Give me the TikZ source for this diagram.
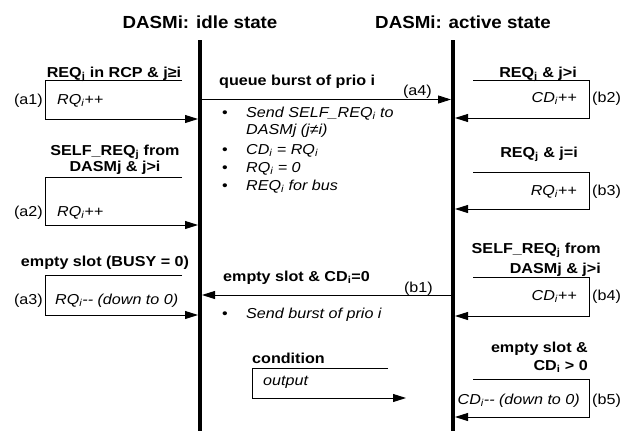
\documentclass[tikz,border=0pt]{standalone}
\usepackage{fontspec}
\setmainfont{Liberation Sans}[FakeStretch=1.12]
\newfontfamily\titlefont{Liberation Sans}[FakeStretch=1.07]
\usetikzlibrary{arrows.meta}
\newcommand\sub[1]{\textsubscript{#1}}
\begin{document}
\begin{tikzpicture}[x=1pt,y=-1pt,
  lbl/.style={font=\fontsize{14.4}{14.4}\selectfont\bfseries, inner sep=0pt},
  txt/.style={font=\fontsize{14.4}{14.4}\selectfont\itshape, inner sep=0pt},
  tag/.style={font=\fontsize{14.4}{14.4}\selectfont, inner sep=0pt},
  ttl/.style={font=\titlefont\fontsize{17.5}{17.5}\selectfont\bfseries, inner sep=0pt},
  thin/.style={line width=0.9pt},
  arr/.style={thin, -{Triangle[length=13pt,width=8pt]}},
  life/.style={line width=3.8pt}]
\useasboundingbox (0,0) rectangle (632,431);
\fill[white] (0,0) rectangle (632,431);
% titles
\node[ttl, anchor=base] (t1) at (200,28) {DASMi: idle state};
\node[ttl, anchor=base] (t2) at (463,28) {DASMi: active state};
% lifelines
\coordinate (L1top) at (200,40); \coordinate (L1bot) at (200,431);
\coordinate (L2top) at (453,40); \coordinate (L2bot) at (453,431);
\draw[life] (L1top) -- (L1bot);
\draw[life] (L2top) -- (L2bot);
% a1
\node[lbl, anchor=base] (a1c) at (114,77) {REQ\sub{j} in RCP \& j≥i};
\coordinate (a1tr) at (182,80); \coordinate (a1tl) at (45,80);
\coordinate (a1bl) at (45,119); \coordinate (a1e) at (198,119);
\draw[arr] (a1tr) -- (a1tl) -- (a1bl) -- (a1e);
\node[tag, anchor=base east] (a1t) at (43,104) {(a1)};
\node[txt, anchor=base west] (a1o) at (57,104) {RQ\sub{i}++};
% a2
\node[lbl, anchor=base] (a2c1) at (115,155) {SELF\_REQ\sub{j} from};
\node[lbl, anchor=base] (a2c2) at (115,171) {DASMj \& j>i};
\coordinate (a2tr) at (182,177); \coordinate (a2tl) at (45,177);
\coordinate (a2bl) at (45,225); \coordinate (a2e) at (198,225);
\draw[arr] (a2tr) -- (a2tl) -- (a2bl) -- (a2e);
\node[tag, anchor=base east] (a2t) at (43,216) {(a2)};
\node[txt, anchor=base west] (a2o) at (57,216) {RQ\sub{i}++};
% a3
\node[lbl, anchor=base] (a3c) at (105,266) {empty slot (BUSY = 0)};
\coordinate (a3tr) at (182,275); \coordinate (a3tl) at (45,275);
\coordinate (a3bl) at (45,315); \coordinate (a3e) at (198,315);
\draw[arr] (a3tr) -- (a3tl) -- (a3bl) -- (a3e);
\node[tag, anchor=base east] (a3t) at (43,304) {(a3)};
\node[txt, anchor=base west] (a3o) at (55,304) {RQ\sub{i}-{}- (down to 0)};
% a4
\node[lbl, anchor=base west] (a4c) at (219,85) {queue burst of prio i};
\coordinate (a4s) at (202,99.5); \coordinate (a4e) at (451,99.5);
\draw[arr] (a4s) -- (a4e);
\node[tag, anchor=base east] (a4t) at (432,95.5) {(a4)};
\node[tag, anchor=base] (bu1) at (225,117) {\textbullet};
\node[txt, anchor=base west] (a4o1) at (246,117) {Send SELF\_REQ\sub{i} to};
\node[txt, anchor=base west] (a4o2) at (246,134) {DASMj (j≠i)};
\node[tag, anchor=base] (bu2) at (225,154) {\textbullet};
\node[txt, anchor=base west] (a4o3) at (246,154) {CD\sub{i} = RQ\sub{i}};
\node[tag, anchor=base] (bu3) at (225,172) {\textbullet};
\node[txt, anchor=base west] (a4o4) at (246,172) {RQ\sub{i} = 0};
\node[tag, anchor=base] (bu4) at (225,190) {\textbullet};
\node[txt, anchor=base west] (a4o5) at (246,190) {REQ\sub{i} for bus};
% b1
\node[lbl, anchor=base west] (b1c) at (223,281) {empty slot \& CD\sub{i}=0};
\coordinate (b1s) at (451,295); \coordinate (b1e) at (202,295);
\draw[arr] (b1s) -- (b1e);
\node[tag, anchor=base east] (b1t) at (433,292) {(b1)};
\node[tag, anchor=base] (bu5) at (225,318) {\textbullet};
\node[txt, anchor=base west] (b1o) at (246,318) {Send burst of prio i};
% legend
\node[lbl, anchor=base west] (lgc) at (252,363) {condition};
\coordinate (lgtr) at (388,368); \coordinate (lgtl) at (252,368);
\coordinate (lgbl) at (252,398); \coordinate (lge) at (406,398);
\draw[arr] (lgtr) -- (lgtl) -- (lgbl) -- (lge);
\node[txt, anchor=base west] (lgo) at (263,385) {output};
% b2
\node[lbl, anchor=base east] (b2c) at (577,77) {REQ\sub{j} \& j>i};
\coordinate (b2tl) at (473,80); \coordinate (b2tr) at (589,80);
\coordinate (b2br) at (589,118); \coordinate (b2e) at (455,118);
\draw[arr] (b2tl) -- (b2tr) -- (b2br) -- (b2e);
\node[txt, anchor=base east] (b2o) at (577,102) {CD\sub{i}++};
\node[tag, anchor=base west] (b2t) at (592,102) {(b2)};
% b3
\node[lbl, anchor=base east] (b3c) at (578,157) {REQ\sub{j} \& j=i};
\coordinate (b3tl) at (473,172); \coordinate (b3tr) at (589,172);
\coordinate (b3br) at (589,209); \coordinate (b3e) at (455,209);
\draw[arr] (b3tl) -- (b3tr) -- (b3br) -- (b3e);
\node[txt, anchor=base east] (b3o) at (577,195) {RQ\sub{i}++};
\node[tag, anchor=base west] (b3t) at (592,195) {(b3)};
% b4
\node[lbl, anchor=base east] (b4c1) at (601,253) {SELF\_REQ\sub{j} from};
\node[lbl, anchor=base east] (b4c2) at (601,273) {DASMj \& j>i};
\coordinate (b4tl) at (473,277); \coordinate (b4tr) at (589,277);
\coordinate (b4br) at (589,316); \coordinate (b4e) at (455,316);
\draw[arr] (b4tl) -- (b4tr) -- (b4br) -- (b4e);
\node[txt, anchor=base east] (b4o) at (577,300) {CD\sub{i}++};
\node[tag, anchor=base west] (b4t) at (592,300) {(b4)};
% b5
\node[lbl, anchor=base east] (b5c1) at (588,352) {empty slot \&};
\node[lbl, anchor=base east] (b5c2) at (588,370) {CD\sub{i} > 0};
\coordinate (b5tl) at (473,379); \coordinate (b5tr) at (589,379);
\coordinate (b5br) at (589,417); \coordinate (b5e) at (455,417);
\draw[arr] (b5tl) -- (b5tr) -- (b5br) -- (b5e);
\node[txt, anchor=base east] (b5o) at (580,404) {CD\sub{i}-{}- (down to 0)};
\node[tag, anchor=base west] (b5t) at (592,404) {(b5)};
\end{tikzpicture}
\end{document}
